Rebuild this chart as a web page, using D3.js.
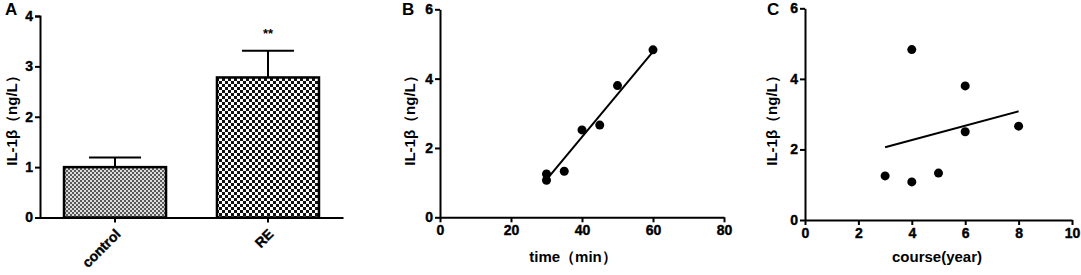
<!DOCTYPE html>
<html><head><meta charset="utf-8">
<script src="https://cdn.jsdelivr.net/npm/d3@7"></script>
<style>body{margin:0;background:#fff}svg{display:block}text{font-family:"Liberation Sans",Arial,sans-serif;font-weight:bold;fill:#000}</style>
</head><body><svg id="c" width="1081" height="275"></svg>
<script>
// Panel A
const barCats = ["control", "RE"];
const barVals = [1.0, 2.78];
const barErr = [0.19, 0.53];
const aTicks = [0, 1, 2, 3, 4];
// Panel B
const timeX = [30, 30, 35, 40, 45, 50, 60];
const timeY = [1.25, 1.07, 1.33, 2.52, 2.66, 3.8, 4.83];
const timeFitX = [30.3, 60];
const timeFitY = [1.12, 4.78];
const bXTicks = [0, 20, 40, 60, 80];
const bYTicks = [0, 2, 4, 6];
// Panel C
const courseX = [3, 4, 5, 4, 6, 6, 8];
const courseY = [1.25, 1.08, 1.33, 4.83, 3.8, 2.5, 2.66];
const courseFitX = [3, 8];
const courseFitY = [2.06, 3.08];
const cXTicks = [0, 2, 4, 6, 8, 10];
const cYTicks = [0, 2, 4, 6];

const svg = d3.select("#c");
const defs = svg.append("defs");
const p1 = defs.append("pattern").attr("id","pc").attr("width",4).attr("height",4).attr("patternUnits","userSpaceOnUse");
p1.append("rect").attr("width",4).attr("height",4).attr("fill","#dcdcdc");
p1.append("rect").attr("width",2).attr("height",2).attr("fill","#5a5a5a");
p1.append("rect").attr("x",2).attr("y",2).attr("width",2).attr("height",2).attr("fill","#5a5a5a");
const p2 = defs.append("pattern").attr("id","pr").attr("width",6).attr("height",6).attr("patternUnits","userSpaceOnUse");
p2.append("rect").attr("width",6).attr("height",6).attr("fill","#fff");
p2.append("rect").attr("width",3).attr("height",3).attr("fill","#111");
p2.append("rect").attr("x",3).attr("y",3).attr("width",3).attr("height",3).attr("fill","#111");

function styleAxis(g){
  g.attr("font-size",null).attr("font-family",null);
  g.selectAll(".domain").attr("stroke","#000").attr("stroke-width",2);
  g.selectAll(".tick line").attr("stroke","#000").attr("stroke-width",2);
  g.selectAll(".tick text").style("font-size","14px").style("font-weight","700")
    .style("font-family","'Liberation Sans',Arial,sans-serif").attr("fill","#000")
    .attr("stroke","#000").attr("stroke-width",0.4);
}

// ---- Panel A
const xA = d3.scaleBand().domain(barCats).range([40,343]).paddingInner(0.333).paddingOuter(0.157);
const yA = d3.scaleLinear().domain([0,4]).range([217.5,16]);
const gA = svg.append("g");
gA.selectAll("line.err").data(barCats).join("line")
  .attr("x1",d=>xA(d)+xA.bandwidth()/2).attr("x2",d=>xA(d)+xA.bandwidth()/2)
  .attr("y1",(d,i)=>yA(barVals[i])).attr("y2",(d,i)=>yA(barVals[i]+barErr[i]))
  .attr("stroke","#000").attr("stroke-width",2);
gA.selectAll("line.cap").data(barCats).join("line")
  .attr("x1",d=>xA(d)+xA.bandwidth()/2-26).attr("x2",d=>xA(d)+xA.bandwidth()/2+26)
  .attr("y1",(d,i)=>yA(barVals[i]+barErr[i])).attr("y2",(d,i)=>yA(barVals[i]+barErr[i]))
  .attr("stroke","#000").attr("stroke-width",2);
gA.selectAll("rect.bar").data(barCats).join("rect")
  .attr("x",d=>xA(d)).attr("width",xA.bandwidth())
  .attr("y",(d,i)=>yA(barVals[i])).attr("height",(d,i)=>yA(0)-yA(barVals[i]))
  .attr("fill",(d,i)=>i===0?"url(#pc)":"url(#pr)").attr("stroke","#000").attr("stroke-width",2.5);
const axAy = gA.append("g").attr("transform","translate(40,0)").call(d3.axisLeft(yA).tickValues(aTicks).tickSize(5).tickPadding(2).tickFormat(d3.format("d")));
styleAxis(axAy);
const axAx = gA.append("g").attr("transform",`translate(0,${yA(0)})`).call(d3.axisBottom(xA).tickSize(5).tickSizeOuter(0).tickPadding(6));
styleAxis(axAx);
axAx.selectAll(".tick text").attr("text-anchor","end").attr("dy","0.35em").attr("y",0).attr("x",0).attr("transform","translate(3,14) rotate(-45)");
gA.append("text").attr("x",xA("RE")+xA.bandwidth()/2).attr("y",38).attr("text-anchor","middle").style("font-size","13px").text("**");
gA.append("text").attr("x",5).attr("y",15).style("font-size","17px").text("A");
gA.append("text").attr("transform","translate(17,117) rotate(-90)").attr("text-anchor","middle").style("font-size","15px").text("IL-1β（ng/L）");

function scatter(x0,x1,y0,y1,xd,yd,xt,yt,xs,ys,fx,fy,letter,lx,xlabel,xlx,ylx){
  const x = d3.scaleLinear().domain(xd).range([x0,x1]);
  const y = d3.scaleLinear().domain(yd).range([y0,y1]);
  const g = svg.append("g");
  const ay = g.append("g").attr("transform",`translate(${x0},0)`).call(d3.axisLeft(y).tickValues(yt).tickSize(5).tickPadding(2).tickSizeOuter(0).tickFormat(d3.format("d")));
  styleAxis(ay);
  const ax = g.append("g").attr("transform",`translate(0,${y0})`).call(d3.axisBottom(x).tickValues(xt).tickSize(5).tickPadding(3).tickSizeOuter(0).tickFormat(d3.format("d")));
  styleAxis(ax);
  g.append("line").attr("x1",x(fx[0])).attr("x2",x(fx[1])).attr("y1",y(fy[0])).attr("y2",y(fy[1])).attr("stroke","#000").attr("stroke-width",2);
  g.selectAll("circle").data(xs).join("circle").attr("cx",d=>x(d)).attr("cy",(d,i)=>y(ys[i])).attr("r",4.5).attr("fill","#000");
  g.append("text").attr("x",lx).attr("y",15).style("font-size","17px").text(letter);
  g.append("text").attr("x",xlx).attr("y",262).attr("text-anchor","middle").style("font-size","15px").text(xlabel);
  g.append("text").attr("transform",`translate(${ylx},117) rotate(-90)`).attr("text-anchor","middle").style("font-size","15px").text("IL-1β（ng/L）");
}
scatter(440,724,217.3,9.3,[0,80],[0,6],bXTicks,bYTicks,timeX,timeY,timeFitX,timeFitY,"B",402,"time（min）",573,415);
scatter(805,1072,220,8.3,[0,10],[0,6],cXTicks,cYTicks,courseX,courseY,courseFitX,courseFitY,"C",767,"course(year)",937,777);
</script></body></html>
